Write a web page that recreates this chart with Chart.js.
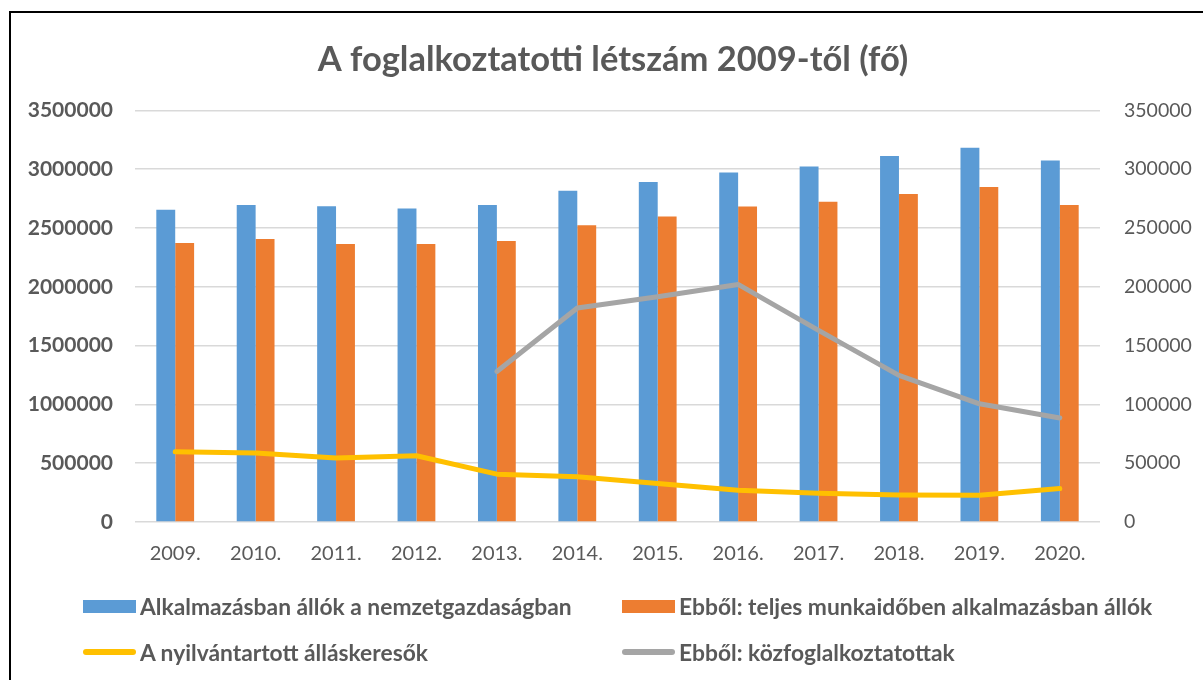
<!DOCTYPE html>
<html>
<head>
<meta charset="utf-8">
<script src="https://cdn.jsdelivr.net/npm/chart.js@4.4.0/dist/chart.umd.min.js"></script>
<style>
  html, body { margin: 0; padding: 0; background: #fff; overflow: hidden; width: 1203px; height: 680px; }
  #frame { position: absolute; left: 9px; top: 11px; width: 1300px; height: 800px; border-left: 2px solid #000; border-top: 2px solid #000; }
  #wrap { position: absolute; left: 10px; top: 12px; width: 1206px; height: 668px; }
  #legend { position: absolute; left: 0; top: 0; width: 1203px; height: 680px; pointer-events: none; font-family: Lato, "Open Sans", sans-serif; font-weight: bold; color: #595959; font-size: 22.8px; }
  .li { position: absolute; display: flex; align-items: center; white-space: nowrap; }
  .sw { display: inline-block; width: 53px; margin-right: 4px; }
</style>
</head>
<body>
<div id="frame"></div>
<div id="wrap"><canvas id="c" width="1206" height="668"></canvas></div>
<div id="legend"></div>
<script>
const categories = ['2009.', '2010.', '2011.', '2012.', '2013.', '2014.', '2015.', '2016.', '2017.', '2018.', '2019.', '2020.'];
const employed = [2655000, 2695000, 2686000, 2666000, 2695000, 2817000, 2891000, 2973000, 3022000, 3113000, 3182000, 3073000];
const fullTime = [2373000, 2407000, 2365000, 2365000, 2390000, 2524000, 2598000, 2683000, 2723000, 2789000, 2849000, 2695000];
const jobSeekers = [597000, 586000, 544000, 563000, 407000, 384000, 327000, 270000, 245000, 230000, 228000, 284000];
const publicWorkers = [null, null, null, null, 128000, 182000, 191500, 202000, 163000, 124700, 100500, 88500];
const leftTicks = [0, 500000, 1000000, 1500000, 2000000, 2500000, 3000000, 3500000];
const rightTicks = [0, 50000, 100000, 150000, 200000, 250000, 300000, 350000];
const seriesNames = [
  'Alkalmazásban állók a nemzetgazdaságban',
  'Ebből: teljes munkaidőben alkalmazásban állók',
  'A nyilvántartott álláskeresők',
  'Ebből: közfoglalkoztatottak'
];
const title = 'A foglalkoztatotti létszám 2009-től (fő)';

const FONT = 'Lato, "Open Sans", sans-serif';
const GREY_TXT = '#595959';

const chart = new Chart(document.getElementById('c'), {
  data: {
    labels: categories,
    datasets: [
      { type: 'bar', label: seriesNames[0], data: employed, backgroundColor: '#5B9BD5', yAxisID: 'y', order: 2,
        categoryPercentage: 0.47, barPercentage: 1.0 },
      { type: 'bar', label: seriesNames[1], data: fullTime, backgroundColor: '#ED7D31', yAxisID: 'y', order: 2,
        categoryPercentage: 0.47, barPercentage: 1.0 },
      { type: 'line', label: seriesNames[2], data: jobSeekers, borderColor: '#FFC000', backgroundColor: '#FFC000', borderWidth: 5,
        pointRadius: 0, tension: 0, yAxisID: 'y', order: 0, borderCapStyle: 'round', borderJoinStyle: 'round' },
      { type: 'line', label: seriesNames[3], data: publicWorkers, borderColor: '#A5A5A5', backgroundColor: '#A5A5A5', borderWidth: 5,
        pointRadius: 0, tension: 0, yAxisID: 'y1', order: 1, spanGaps: false, borderCapStyle: 'round', borderJoinStyle: 'round' }
    ]
  },
  options: {
    responsive: false,
    animation: false,
    layout: { padding: { left: 0, right: 0, top: 0, bottom: 94 } },
    plugins: {
      legend: { display: false },
      tooltip: { enabled: false },
      title: {
        display: true, text: title, color: GREY_TXT,
        font: { family: FONT, size: 34.5, weight: 'bold' },
        padding: { top: 27, bottom: 30 }
      }
    },
    scales: {
      x: {
        grid: { display: false, drawTicks: false },
        border: { display: false },
        ticks: { color: GREY_TXT, font: { family: FONT, size: 20 }, padding: 20, maxRotation: 0 }
      },
      y: {
        position: 'left', min: 0, max: 3500000,
        afterBuildTicks: (s) => { s.ticks = leftTicks.map(v => ({ value: v })); },
        afterFit: (s) => { s.width = 125; },
        grid: { color: '#D9D9D9', lineWidth: 1.5, drawTicks: false },
        border: { display: false },
        ticks: { color: GREY_TXT, font: { family: FONT, size: 21, weight: 'bold' }, padding: 22, callback: (v) => String(v) }
      },
      y1: {
        position: 'right', min: 0, max: 350000,
        afterBuildTicks: (s) => { s.ticks = rightTicks.map(v => ({ value: v })); },
        afterFit: (s) => { s.width = 116; },
        grid: { display: false, drawTicks: false },
        border: { display: false },
        ticks: { color: GREY_TXT, font: { family: FONT, size: 19.5 }, padding: 24, callback: (v) => String(v) }
      }
    }
  }
});

// HTML legend built from the chart datasets
const legendPos = [
  { x: 83, y: 606 }, { x: 622, y: 606 }, { x: 83, y: 652 }, { x: 622, y: 652 }
];
const lg = document.getElementById('legend');
chart.data.datasets.forEach((ds, i) => {
  const d = document.createElement('div');
  d.className = 'li';
  d.style.left = legendPos[i].x + 'px';
  d.style.top = (legendPos[i].y - 14) + 'px';
  d.style.height = '28px';
  const sw = document.createElement('span');
  sw.className = 'sw';
  if (ds.type === 'bar') { sw.style.height = '13px'; sw.style.background = ds.backgroundColor; }
  else { sw.style.height = '6px'; sw.style.borderRadius = '3px'; sw.style.background = ds.borderColor; }
  const t = document.createElement('span');
  t.textContent = ds.label;
  d.appendChild(sw); d.appendChild(t);
  lg.appendChild(d);
});
</script>
</body>
</html>
